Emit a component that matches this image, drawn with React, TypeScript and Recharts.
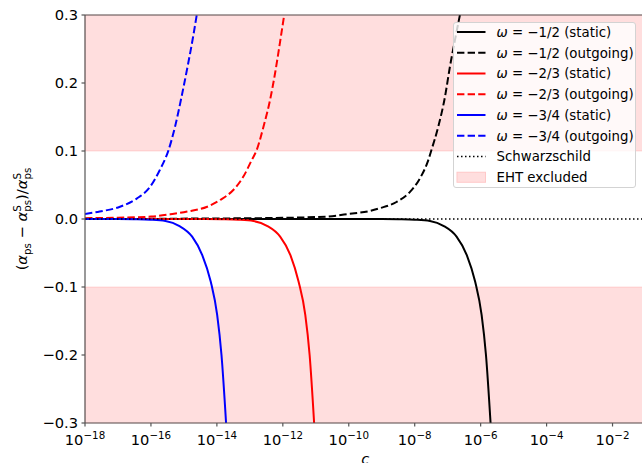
import React from 'react';
import { LineChart, Line, XAxis, YAxis, ReferenceArea, ReferenceLine, Label } from 'recharts';

// ---- data ----
const xTicks = [1e-18, 1e-16, 1e-14, 1e-12, 1e-10, 1e-8, 1e-6, 1e-4, 1e-2];
const yTicks = [-0.3, -0.2, -0.1, 0, 0.1, 0.2, 0.3];

const blackStaticC = [1e-18, 1e-12, 1e-9, 3.2e-9, 1e-8, 2.9e-8, 7.4e-8, 1.86e-7, 3.8e-7, 6.8e-7, 1.07e-6, 1.45e-6, 2.0e-6];
const blackStaticY = [0, 0, 0, -0.0003, -0.001, -0.003, -0.01, -0.026, -0.053, -0.092, -0.141, -0.2, -0.3];

const blackOutC = [1e-18, 1e-14, 1e-12, 2e-11, 1e-10, 4.5e-10, 8.9e-10, 2.8e-9, 7.2e-9, 1.45e-8, 2.6e-8, 3.2e-8, 5.2e-8, 8.3e-8, 1.17e-7, 1.66e-7, 2.35e-7];
const blackOutY = [0.0002, 0.0008, 0.0017, 0.0035, 0.0074, 0.012, 0.016, 0.025, 0.04, 0.06, 0.087, 0.101, 0.136, 0.18, 0.224, 0.263, 0.3];

const redStaticC = [1e-18, 4.5e-15, 1.4e-14, 4.5e-14, 1.29e-13, 3.3e-13, 8.3e-13, 1.7e-12, 3.0e-12, 4.8e-12, 6.5e-12, 8.9e-12];
const redStaticY = [0, 0, -0.0003, -0.001, -0.003, -0.01, -0.026, -0.053, -0.092, -0.141, -0.2, -0.3];

const redOutC = [1e-18, 1e-17, 1e-16, 4.5e-16, 1.26e-15, 5.1e-15, 1.26e-14, 3.2e-14, 6.3e-14, 1.15e-13, 1.6e-13, 2.6e-13, 4.1e-13, 5.8e-13, 8.1e-13, 1.1e-12];
const redOutY = [0.0012, 0.002, 0.0035, 0.0074, 0.011, 0.018, 0.028, 0.043, 0.062, 0.087, 0.101, 0.136, 0.175, 0.214, 0.258, 0.3];

const blueStaticC = [1e-18, 1e-17, 3.0e-17, 9.5e-17, 2.75e-16, 7.1e-16, 1.78e-15, 3.6e-15, 6.5e-15, 1.02e-14, 1.38e-14, 1.9e-14];
const blueStaticY = [0, 0, -0.0003, -0.001, -0.003, -0.01, -0.026, -0.053, -0.092, -0.141, -0.2, -0.3];

const blueOutC = [1e-18, 2.8e-18, 1.15e-17, 3.7e-17, 9.3e-17, 1.86e-16, 3.4e-16, 5.4e-16, 8.5e-16, 1.35e-15, 1.9e-15, 2.45e-15];
const blueOutY = [0.0074, 0.011, 0.018, 0.03, 0.047, 0.072, 0.101, 0.136, 0.18, 0.229, 0.268, 0.3];

const schwC = [1e-18, 1e-1];
const schwY = [0, 0];

const legendLabels = [
  { w: '−1/2', kind: 'static', color: '#000000', dash: undefined },
  { w: '−1/2', kind: 'outgoing', color: '#000000', dash: '7.4 3.2' },
  { w: '−2/3', kind: 'static', color: '#ff0000', dash: undefined },
  { w: '−2/3', kind: 'outgoing', color: '#ff0000', dash: '7.4 3.2' },
  { w: '−3/4', kind: 'static', color: '#0000ff', dash: undefined },
  { w: '−3/4', kind: 'outgoing', color: '#0000ff', dash: '7.4 3.2' },
];

const zip = (cs: number[], ys: number[]) => cs.map((c, i) => ({ c, y: ys[i] }));

const FONT = 'DejaVu Sans, sans-serif';
const AXIS = '#555555';
const TICK_FS = 14.67;
const SUP_FS = 10.3;
const DASH = '7.4 3.2';

const XTick = (props: any) => {
  const { x, y, payload } = props;
  const exp = Math.round(Math.log10(payload.value));
  const expStr = exp < 0 ? '−' + Math.abs(exp) : String(exp);
  return (
    <text x={x} y={y + 15} textAnchor="middle" fontFamily={FONT} fontSize={TICK_FS} fill="#000">
      <tspan>10</tspan>
      <tspan fontSize={SUP_FS} dy={-6.5}>{expStr}</tspan>
    </text>
  );
};

const fmtY = (v: number) => {
  const r = Math.round(v * 10) / 10;
  if (Math.abs(r) < 1e-9) return '0.0';
  return (r < 0 ? '−' : '') + Math.abs(r).toFixed(1);
};

const YLabel = (props: any) => {
  const vb = props.viewBox || { x: 0, y: 15, width: 85, height: 408 };
  const cx = vb.x + 27;
  const cy = vb.y + vb.height / 2;
  const sW = 0.635 * SUP_FS;
  return (
    <text
      x={cx}
      y={cy}
      transform={`rotate(-90, ${cx}, ${cy})`}
      textAnchor="middle"
      fontFamily={FONT}
      fontSize={TICK_FS}
      fill="#000"
    >
      <tspan>(</tspan>
      <tspan fontStyle="italic">α</tspan>
      <tspan fontSize={SUP_FS} dy={4}>ps</tspan>
      <tspan dy={-4}>{' − '}</tspan>
      <tspan fontStyle="italic">α</tspan>
      <tspan fontSize={SUP_FS} dy={-6}>S</tspan>
      <tspan fontSize={SUP_FS} dx={-sW} dy={10}>ps</tspan>
      <tspan dy={-4}>)/</tspan>
      <tspan fontStyle="italic">α</tspan>
      <tspan fontSize={SUP_FS} dy={-6}>S</tspan>
      <tspan fontSize={SUP_FS} dx={-sW} dy={10}>ps</tspan>
    </text>
  );
};

const XLabel = (props: any) => {
  const vb = props.viewBox || { x: 85, y: 423, width: 560, height: 40 };
  return (
    <text x={vb.x + vb.width / 2} y={vb.y + 41} textAnchor="middle" fontFamily={FONT} fontSize={TICK_FS} fontStyle="italic" fill="#000">
      c
    </text>
  );
};

const LegendBox = () => {
  const rowH = 20.75;
  const y0 = 10;
  return (
    <div
      style={{
        position: 'absolute',
        left: 453,
        top: 22,
        width: 183,
        height: 166,
        background: 'rgba(255,255,255,0.8)',
        border: '1px solid #d3d3d3',
        borderRadius: 3,
        boxSizing: 'border-box',
      }}
    >
      <svg width={183} height={166} style={{ position: 'absolute', left: -1, top: -1 }}>
        {legendLabels.map((e, i) => {
          const cy = y0 + i * rowH;
          return (
            <g key={i}>
              <line x1={4} x2={32.5} y1={cy} y2={cy} stroke={e.color} strokeWidth={2} strokeDasharray={e.dash} />
              <text x={43.5} y={cy + 4.8} fontFamily={FONT} fontSize={13.33} fill="#000">
                <tspan fontStyle="italic">ω</tspan>
                {` = ${e.w} (${e.kind})`}
              </text>
            </g>
          );
        })}
        <line x1={4} x2={32.5} y1={y0 + 6 * rowH} y2={y0 + 6 * rowH} stroke="#000" strokeWidth={1.5} strokeDasharray="1.5 2.5" />
        <text x={43.5} y={y0 + 6 * rowH + 4.8} fontFamily={FONT} fontSize={13.33} fill="#000">Schwarzschild</text>
        <rect x={4} y={y0 + 7 * rowH - 5} width={28.5} height={10} fill="#ffdede" stroke="#ffc8c8" strokeWidth={1} />
        <text x={43.5} y={y0 + 7 * rowH + 4.8} fontFamily={FONT} fontSize={13.33} fill="#000">EHT excluded</text>
      </svg>
    </div>
  );
};

export default function App() {
  const lineCommon = { dataKey: 'y', type: 'monotone' as const, dot: false, activeDot: false, isAnimationActive: false, strokeWidth: 2 };
  return (
    <div style={{ position: 'absolute', left: 0, top: 0, width: 642, height: 463, overflow: 'hidden', background: '#fff' }}>
      <LineChart width={650} height={463} margin={{ top: 15, right: 4.5, bottom: 0, left: 0 }}>
        <XAxis
          type="number"
          dataKey="c"
          scale="log"
          domain={[1e-18, 1e-1]}
          allowDataOverflow
          ticks={xTicks}
          interval={0}
          tick={<XTick />}
          tickSize={3.5}
          tickMargin={3.5}
          height={40}
          axisLine={{ stroke: AXIS, strokeWidth: 1.2 }}
          tickLine={{ stroke: AXIS, strokeWidth: 1.2 }}
        >
          <Label content={XLabel} />
        </XAxis>
        <YAxis
          type="number"
          domain={[-0.3, 0.3]}
          allowDataOverflow
          ticks={yTicks}
          interval={0}
          tickFormatter={fmtY}
          width={85}
          tickSize={3.5}
          tickMargin={3.5}
          tick={{ fill: '#000', fontSize: TICK_FS, fontFamily: FONT }}
          axisLine={{ stroke: AXIS, strokeWidth: 1.2 }}
          tickLine={{ stroke: AXIS, strokeWidth: 1.2 }}
        >
          <Label content={YLabel} />
        </YAxis>
        <ReferenceArea y1={0.1} y2={0.3} fill="#ff0000" fillOpacity={0.13} stroke="#ff0000" strokeOpacity={0.13} />
        <ReferenceArea y1={-0.3} y2={-0.1} fill="#ff0000" fillOpacity={0.13} stroke="#ff0000" strokeOpacity={0.13} />
        <Line {...lineCommon} data={zip(blackStaticC, blackStaticY)} stroke="#000000" />
        <Line {...lineCommon} data={zip(blackOutC, blackOutY)} stroke="#000000" strokeDasharray={DASH} />
        <Line {...lineCommon} data={zip(redStaticC, redStaticY)} stroke="#ff0000" />
        <Line {...lineCommon} data={zip(redOutC, redOutY)} stroke="#ff0000" strokeDasharray={DASH} />
        <Line {...lineCommon} data={zip(blueStaticC, blueStaticY)} stroke="#0000ff" />
        <Line {...lineCommon} data={zip(blueOutC, blueOutY)} stroke="#0000ff" strokeDasharray={DASH} />
        <Line {...lineCommon} data={zip(schwC, schwY)} stroke="#000000" strokeWidth={1.5} strokeDasharray="1.5 2.5" type="linear" />
        <ReferenceLine y={0.3} stroke={AXIS} strokeWidth={1.2} />
      </LineChart>
      <LegendBox />
    </div>
  );
}
